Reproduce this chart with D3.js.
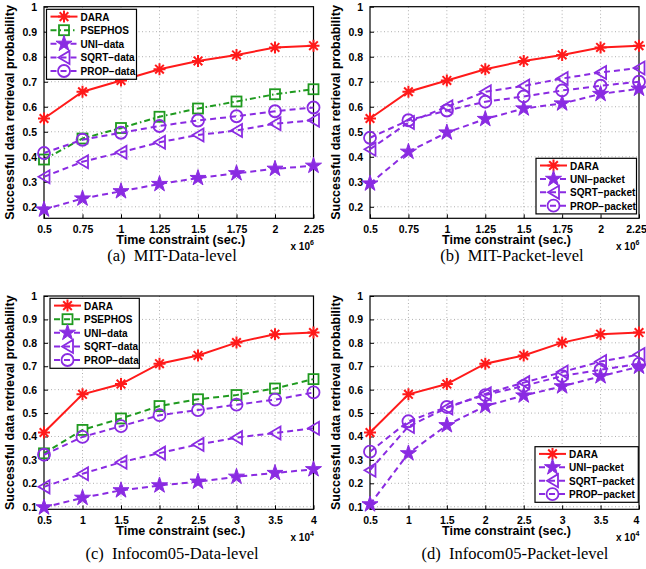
<!DOCTYPE html>
<html>
<head>
<meta charset="utf-8">
<script src="https://cdn.jsdelivr.net/npm/d3@7"></script>
<style>
  body { margin: 0; background: #fff; }
  svg { display: block; }
  .tick text, .lg text { font-family: "Liberation Sans", Arial, sans-serif; font-weight: bold; }
</style>
</head>
<body>
<div id="chart"></div>
<script>
// x values
var mitX = [0.5, 0.75, 1, 1.25, 1.5, 1.75, 2, 2.25];
var infX = [0.5, 1, 1.5, 2, 2.5, 3, 3.5, 4];

// (a) MIT data level
var mitDara = [0.553, 0.660, 0.705, 0.750, 0.783, 0.807, 0.837, 0.844];
var mitPsephos = [0.389, 0.473, 0.515, 0.560, 0.593, 0.621, 0.650, 0.670];
var mitUniData = [0.189, 0.233, 0.262, 0.291, 0.315, 0.334, 0.352, 0.364];
var mitSqrtData = [0.320, 0.380, 0.418, 0.458, 0.487, 0.505, 0.532, 0.546];
var mitPropData = [0.415, 0.468, 0.496, 0.523, 0.545, 0.562, 0.582, 0.597];

// (b) MIT packet level
var mitUniPacket = [0.293, 0.420, 0.497, 0.551, 0.593, 0.613, 0.651, 0.672];
var mitSqrtPacket = [0.430, 0.537, 0.600, 0.660, 0.683, 0.713, 0.737, 0.755];
var mitPropPacket = [0.476, 0.546, 0.585, 0.620, 0.641, 0.665, 0.684, 0.700];

// (c) Infocom05 data level
var infDara = [0.417, 0.580, 0.624, 0.711, 0.746, 0.801, 0.837, 0.844];
var infPsephos = [0.328, 0.428, 0.477, 0.530, 0.559, 0.577, 0.605, 0.645];
var infUniData = [0.097, 0.138, 0.170, 0.191, 0.207, 0.228, 0.244, 0.260];
var infSqrtData = [0.185, 0.241, 0.290, 0.329, 0.366, 0.395, 0.415, 0.435];
var infPropData = [0.322, 0.398, 0.444, 0.491, 0.513, 0.536, 0.557, 0.588];

// (d) Infocom05 packet level
var infUniPacket = [0.110, 0.328, 0.448, 0.530, 0.575, 0.614, 0.657, 0.698];
var infSqrtPacket = [0.256, 0.443, 0.522, 0.582, 0.630, 0.675, 0.720, 0.750];
var infPropPacket = [0.335, 0.465, 0.526, 0.577, 0.616, 0.658, 0.685, 0.710];

var mitTicks = ["0.5", "0.75", "1", "1.25", "1.5", "1.75", "2", "2.25"];
var infTicks = ["0.5", "1", "1.5", "2", "2.5", "3", "3.5", "4"];
var mitYTicks = [0.2, 0.3, 0.4, 0.5, 0.6, 0.7, 0.8, 0.9, 1];
var infYTicks = [0.1, 0.2, 0.3, 0.4, 0.5, 0.6, 0.7, 0.8, 0.9, 1];

var RED = "#ff1a1a", GREEN = "#1f9a1f", PURPLE = "#8a2be2";

var svg = d3.select("#chart").append("svg")
    .attr("width", 646)
    .attr("height", 569);

// marker drawing
function drawMarker(g, type, color) {
    if (type === "aster") {
        var r = 6, d = r * 0.72;
        g.append("path")
            .attr("d", `M${-r},0L${r},0M0,${-r}L0,${r}M${-d},${-d}L${d},${d}M${-d},${d}L${d},${-d}`)
            .attr("stroke", color).attr("stroke-width", 2).attr("fill", "none");
    } else if (type === "square") {
        g.append("rect").attr("x", -5).attr("y", -5).attr("width", 10).attr("height", 10)
            .attr("stroke", color).attr("stroke-width", 1.8).attr("fill", "none");
    } else if (type === "star") {
        g.append("path").attr("d", d3.symbol(d3.symbolStar, 80)())
            .attr("fill", color).attr("stroke", color).attr("stroke-width", 1);
    } else if (type === "tri") {
        g.append("path").attr("d", "M-5.5,0L5.5,-6.5L5.5,6.5Z")
            .attr("stroke", color).attr("stroke-width", 1.8).attr("fill", "none");
    } else if (type === "circle") {
        g.append("circle").attr("r", 6)
            .attr("stroke", color).attr("stroke-width", 1.8).attr("fill", "none");
    }
}

function drawPanel(p) {
    var x = d3.scaleLinear().domain(p.xDomain).range([p.left, p.right]);
    var y = d3.scaleLinear().domain(p.yDomain).range([p.bottom, p.top]);
    var g = svg.append("g");
    var xVals = p.xTickLabels.map(Number);

    // dotted grid
    g.append("g").selectAll("line").data(xVals.slice(1, -1)).enter().append("line")
        .attr("x1", d => x(d)).attr("x2", d => x(d))
        .attr("y1", p.top).attr("y2", p.bottom)
        .attr("stroke", "#b0b0b0").attr("stroke-dasharray", "1,2.5");
    g.append("g").selectAll("line").data(p.yTicks.filter(d => d < 1 && y(d) < p.bottom - 1)).enter().append("line")
        .attr("y1", d => y(d)).attr("y2", d => y(d))
        .attr("x1", p.left).attr("x2", p.right)
        .attr("stroke", "#b0b0b0").attr("stroke-dasharray", "1,2.5");

    // axes
    var xAxis = d3.axisBottom(x).tickValues(xVals).tickSize(-4).tickPadding(7)
        .tickFormat((d, i) => p.xTickLabels[i]);
    var yAxis = d3.axisLeft(y).tickValues(p.yTicks).tickSize(-4).tickPadding(7)
        .tickFormat(d3.format("~g"));
    var gx = g.append("g").attr("transform", `translate(0,${p.bottom})`).call(xAxis);
    var gy = g.append("g").attr("transform", `translate(${p.left},0)`).call(yAxis);
    [gx, gy].forEach(function (a) {
        a.select(".domain").remove();
        a.selectAll(".tick text").attr("font-size", 10.5).attr("fill", "#000");
        a.selectAll(".tick line").attr("stroke", "#000");
    });
    // keep the last x label inside the window
    if (p.right > 630) {
        gx.selectAll(".tick text").filter((d, i) => i === xVals.length - 1).attr("dx", -3);
    }
    g.append("rect")
        .attr("x", p.left).attr("y", p.top)
        .attr("width", p.right - p.left).attr("height", p.bottom - p.top)
        .attr("fill", "none").attr("stroke", "#000").attr("stroke-width", 1.2);

    // axis labels
    g.append("text")
        .attr("x", (p.left + p.right) / 2 + 2).attr("y", p.bottom + 26)
        .attr("text-anchor", "middle")
        .attr("font-family", "Liberation Sans, Arial, sans-serif").attr("font-weight", "bold")
        .attr("font-size", 12.5)
        .text("Time constraint (sec.)");
    var mult = g.append("text")
        .attr("x", p.right - 23).attr("y", p.bottom + 32)
        .attr("font-family", "Liberation Sans, Arial, sans-serif").attr("font-weight", "bold")
        .attr("font-size", 10);
    mult.append("tspan").text("x 10");
    mult.append("tspan").attr("dy", -5).attr("font-size", 7).text(p.expo);
    g.append("text")
        .attr("transform", `translate(${p.left - 30},${(p.top + p.bottom) / 2}) rotate(-90)`)
        .attr("text-anchor", "middle")
        .attr("font-family", "Liberation Sans, Arial, sans-serif").attr("font-weight", "bold")
        .attr("font-size", 12.5)
        .text("Successful data retrieval probability");

    // caption
    g.append("text")
        .attr("x", p.capX).attr("y", p.capY)
        .attr("text-anchor", "middle")
        .attr("font-family", "Liberation Serif, DejaVu Serif, serif")
        .attr("font-size", 16.5)
        .style("white-space", "pre")
        .text(p.caption);

    // series
    var line = d3.line().x((d, i) => x(p.xData[i])).y(d => y(d));
    p.series.forEach(function (s) {
        g.append("path").datum(s.values)
            .attr("d", line)
            .attr("fill", "none").attr("stroke", s.color).attr("stroke-width", 2)
            .attr("stroke-dasharray", s.dash);
        s.values.forEach(function (v, i) {
            var m = g.append("g").attr("transform", `translate(${x(p.xData[i])},${y(v)})`);
            drawMarker(m, s.marker, s.color);
        });
    });

    // legend
    var lg = g.append("g").attr("class", "lg");
    lg.append("rect")
        .attr("x", p.legend.x).attr("y", p.legend.y)
        .attr("width", p.legend.w).attr("height", p.legend.step * p.series.length + 2)
        .attr("fill", "#fff").attr("stroke", "#000").attr("stroke-width", 1.2);
    p.series.forEach(function (s, i) {
        var ly = p.legend.y + 0.5 + p.legend.step * (i + 0.5);
        var lx = p.legend.x + 4;
        lg.append("line")
            .attr("x1", lx).attr("x2", lx + 27).attr("y1", ly).attr("y2", ly)
            .attr("stroke", s.color).attr("stroke-width", 2).attr("stroke-dasharray", s.dash);
        drawMarker(lg.append("g").attr("transform", `translate(${lx + 13.5},${ly})`), s.marker, s.color);
        lg.append("text")
            .attr("x", lx + 30).attr("y", ly + 4)
            .attr("font-size", 10)
            .text(s.name);
    });
}

var DASH = "6,4", DASHDOT = "6,3,1.5,3";

drawPanel({
    xDomain: [0.5, 2.25], yDomain: [0.154, 1],
    left: 44, right: 313.5, top: 6.7, bottom: 218.3,
    xData: mitX, xTickLabels: mitTicks, yTicks: mitYTicks, expo: "6",
    caption: "(a)  MIT-Data-level", capX: 172, capY: 261,
    legend: { x: 46.5, y: 9.3, w: 90, step: 13.6 },
    series: [
        { name: "DARA", values: mitDara, color: RED, dash: null, marker: "aster" },
        { name: "PSEPHOS", values: mitPsephos, color: GREEN, dash: DASHDOT, marker: "square" },
        { name: "UNI\u2212data", values: mitUniData, color: PURPLE, dash: DASH, marker: "star" },
        { name: "SQRT\u2212data", values: mitSqrtData, color: PURPLE, dash: DASH, marker: "tri" },
        { name: "PROP\u2212data", values: mitPropData, color: PURPLE, dash: DASH, marker: "circle" }
    ]
});

drawPanel({
    xDomain: [0.5, 2.25], yDomain: [0.154, 1],
    left: 370, right: 639, top: 6.7, bottom: 218.3,
    xData: mitX, xTickLabels: mitTicks, yTicks: mitYTicks, expo: "6",
    caption: "(b)  MIT-Packet-level", capX: 512, capY: 261,
    legend: { x: 536, y: 158.3, w: 100.5, step: 13.4 },
    series: [
        { name: "DARA", values: mitDara, color: RED, dash: null, marker: "aster" },
        { name: "UNI\u2212packet", values: mitUniPacket, color: PURPLE, dash: DASH, marker: "star" },
        { name: "SQRT\u2212packet", values: mitSqrtPacket, color: PURPLE, dash: DASH, marker: "tri" },
        { name: "PROP\u2212packet", values: mitPropPacket, color: PURPLE, dash: DASH, marker: "circle" }
    ]
});

drawPanel({
    xDomain: [0.5, 4], yDomain: [0.089, 1],
    left: 44, right: 313.5, top: 296, bottom: 509.3,
    xData: infX, xTickLabels: infTicks, yTicks: infYTicks, expo: "4",
    caption: "(c)  Infocom05-Data-level", capX: 172, capY: 559,
    legend: { x: 50, y: 298.3, w: 89.3, step: 13.6 },
    series: [
        { name: "DARA", values: infDara, color: RED, dash: null, marker: "aster" },
        { name: "PSEPHOS", values: infPsephos, color: GREEN, dash: DASH, marker: "square" },
        { name: "UNI\u2212data", values: infUniData, color: PURPLE, dash: DASH, marker: "star" },
        { name: "SQRT\u2212data", values: infSqrtData, color: PURPLE, dash: DASH, marker: "tri" },
        { name: "PROP\u2212data", values: infPropData, color: PURPLE, dash: DASH, marker: "circle" }
    ]
});

drawPanel({
    xDomain: [0.5, 4], yDomain: [0.089, 1],
    left: 370, right: 639, top: 296, bottom: 509.3,
    xData: infX, xTickLabels: infTicks, yTicks: infYTicks, expo: "4",
    caption: "(d)  Infocom05-Packet-level", capX: 515, capY: 559,
    legend: { x: 535, y: 446.7, w: 103.3, step: 13.4 },
    series: [
        { name: "DARA", values: infDara, color: RED, dash: null, marker: "aster" },
        { name: "UNI\u2212packet", values: infUniPacket, color: PURPLE, dash: DASH, marker: "star" },
        { name: "SQRT\u2212packet", values: infSqrtPacket, color: PURPLE, dash: DASH, marker: "tri" },
        { name: "PROP\u2212packet", values: infPropPacket, color: PURPLE, dash: DASH, marker: "circle" }
    ]
});
</script>
</body>
</html>
